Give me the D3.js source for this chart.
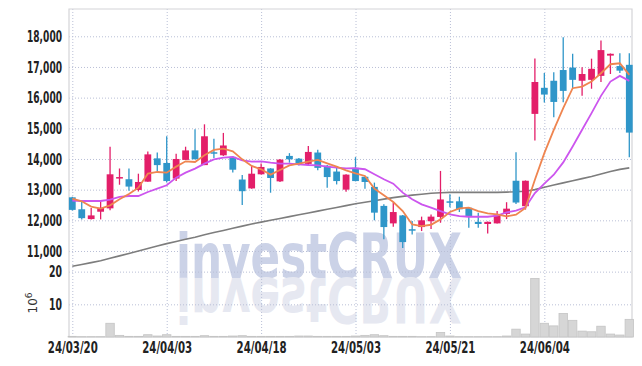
<!DOCTYPE html>
<html>
<head>
<meta charset="utf-8">
<script src="https://cdn.jsdelivr.net/npm/d3@7"></script>
<style>
  body { margin: 0; background: #fff; }
  .tick text { font-family: "DejaVu Sans", sans-serif; font-weight: bold; fill: #222; }
</style>
</head>
<body>
<script>
// chart size
var svgWidth = 642;
var svgHeight = 366;

// plot area
var plotLeft = 69, plotRight = 632, plotTop = 9, plotSplit = 270, plotBottom = 337;

// trading days
var dates = ["24/03/20","24/03/21","24/03/22","24/03/25","24/03/26","24/03/27","24/03/28","24/03/29",
  "24/04/01","24/04/02","24/04/03","24/04/04","24/04/05","24/04/08","24/04/09","24/04/11","24/04/12",
  "24/04/15","24/04/16","24/04/17","24/04/18","24/04/19","24/04/22","24/04/23","24/04/24","24/04/25",
  "24/04/26","24/04/29","24/04/30","24/05/02","24/05/03","24/05/07","24/05/08","24/05/09","24/05/10",
  "24/05/13","24/05/14","24/05/16","24/05/17","24/05/20","24/05/21","24/05/22","24/05/23","24/05/24",
  "24/05/27","24/05/28","24/05/29","24/05/30","24/05/31","24/06/03","24/06/04","24/06/05","24/06/07",
  "24/06/10","24/06/11","24/06/12","24/06/13","24/06/14","24/06/17","24/06/18"];

var openPrice = [12750,12360,12040,12280,12390,13380,13340,12990,13260,14020,13870,13360,13970,14280,13800,
  14220,14120,14070,13330,13040,13500,13690,13270,14100,14010,13840,14210,13780,13590,13000,13710,13420,
  13090,12470,11900,12160,11710,11780,11970,12110,12620,12620,12410,11950,11880,11900,12210,13290,12460,
  15470,16320,16550,16900,16980,16550,16580,16710,17370,17030,17070];
var closePrice = [12340,12070,12160,12410,13500,13410,13100,13250,14150,13800,13280,14000,14280,13990,14740,
  14180,14440,13650,12950,13520,13740,13380,13980,13990,13850,14230,13710,13410,13280,13490,13280,13250,
  12250,11780,12270,11290,11680,12000,12120,12680,12600,12360,12120,11880,11950,12190,12380,12580,13290,
  16510,16100,15860,16220,16580,16770,16940,17550,17430,16880,14860];
var highPrice = [12770,12650,12400,12600,14400,13690,13690,13520,14240,14210,14740,14170,14400,14970,15130,
  14660,14850,14090,13480,13780,13850,13700,14000,14190,14030,14420,14300,13800,13710,13500,14060,13430,
  13230,12520,12580,12170,11980,12120,12190,13610,12850,12770,12420,12250,11960,12300,12590,14220,13300,
  17280,16800,16830,17970,17430,16990,17270,17860,17440,17450,17450];
var lowPrice = [12320,12030,12030,12030,12330,13160,12960,12940,13260,13610,13230,13280,13970,13990,13800,
  14030,14100,13560,12500,13030,13490,12900,13250,13880,13790,13790,13630,13060,13170,12930,13270,13030,
  12000,11380,11790,11100,11540,11650,11720,11920,12430,12270,11760,11760,11570,11900,12040,12530,12350,
  14600,15840,15360,15850,16300,16060,16290,16510,16770,16800,14060];

// volume in millions
var volume = [0.2,0.1,0.1,0.1,4.2,0.5,0.2,0.2,0.7,0.3,0.7,0.2,0.2,0.2,0.4,0.2,0.2,0.3,0.4,0.2,
  0.2,0.2,0.2,0.2,0.3,0.3,0.2,0.2,0.2,0.2,0.3,0.5,0.7,0.4,0.2,0.2,0.2,0.1,0.1,1.4,
  0.3,0.1,0.1,0.1,0.1,0.1,0.3,2.4,0.9,17.9,4.2,3.4,7.2,5.1,1.8,1.6,3.3,0.9,0.6,5.4];

// moving average lines
var ma5 = [12706,12620,12446,12380,12489,12685,12859,13065,13522,13576,13554,13750,13924,13902,14120,
  14294,14337,14250,13989,13772,13663,13489,13641,13793,13848,13913,13967,13859,13750,13630,13530,13447,
  13033,12815,12597,12302,11866,11812,11855,12030,12270,12390,12411,12302,12226,12193,12130,12184,12400,
  13324,14192,14951,15656,16307,16362,16524,16796,17089,17121,16741];
var ma20 = [12641,12630,12630,12630,12674,12761,12793,12793,12924,13033,13141,13391,13554,13685,13848,
  13989,14043,14065,13957,13913,13924,13880,13848,13848,13826,13804,13793,13750,13717,13696,13697,13665,
  13501,13338,13196,12902,12684,12520,12411,12302,12193,12139,12117,12117,12117,12150,12260,12315,12423,
  12890,13193,13486,13888,14409,14951,15494,16058,16524,16709,16546];
var ma120 = [10500,10560,10620,10680,10760,10840,10920,11000,11080,11160,11240,11310,11380,11450,11530,
  11600,11670,11740,11810,11880,11940,12000,12060,12120,12180,12240,12300,12360,12420,12480,12540,12590,
  12640,12690,12740,12780,12820,12850,12880,12900,12910,12910,12910,12910,12910,12910,12920,12930,12950,
  13000,13080,13150,13220,13290,13360,13430,13510,13590,13660,13710];

// axis ticks
var priceTicks = [11000,12000,13000,14000,15000,16000,17000,18000];
var volumeTicks = [10,20];
var dateTicks = ["24/03/20","24/04/03","24/04/18","24/05/03","24/05/21","24/06/04"];

var svg = d3.select("body").append("svg")
  .attr("width", svgWidth)
  .attr("height", svgHeight);

var x = d3.scalePoint().domain(dates).range([72.3, 629.3]);
var step = x.step();
var yPrice = d3.scaleLinear().domain([10380, 18890]).range([plotSplit, plotTop]);
var yVol = d3.scaleLinear().domain([0, 20.5]).range([plotBottom, plotSplit]);

// watermark with reflection
svg.append("text")
  .attr("x", 176).attr("y", 278)
  .attr("textLength", 286).attr("lengthAdjust", "spacingAndGlyphs")
  .style("font-family", "DejaVu Sans, sans-serif")
  .style("font-weight", "bold").style("font-size", "62px")
  .style("fill", "#cbd2e7")
  .text("investCRUX");
svg.append("text")
  .attr("x", 176).attr("y", 278)
  .attr("transform", "translate(0," + (2 * 278) + ") scale(1,-1)")
  .attr("textLength", 286).attr("lengthAdjust", "spacingAndGlyphs")
  .style("font-family", "DejaVu Sans, sans-serif")
  .style("font-weight", "bold").style("font-size", "62px")
  .style("fill", "#e6e8f1")
  .text("investCRUX");

// grid lines
function styleGrid(g) {
  g.select(".domain").remove();
  g.selectAll("line").attr("stroke", "#b9bfd6").attr("stroke-dasharray", "1,2");
  g.selectAll("text").remove();
}
svg.append("g")
  .attr("transform", `translate(${plotLeft},0)`)
  .call(d3.axisLeft(yPrice).tickValues(priceTicks).tickSize(-(plotRight - plotLeft)))
  .call(styleGrid);
svg.append("g")
  .attr("transform", `translate(${plotLeft},0)`)
  .call(d3.axisLeft(yVol).tickValues(volumeTicks).tickSize(-(plotRight - plotLeft)))
  .call(styleGrid);
svg.append("g")
  .attr("transform", `translate(0,${plotBottom})`)
  .call(d3.axisBottom(x).tickValues(dateTicks).tickSize(-(plotBottom - plotTop)))
  .call(styleGrid);

// frame
svg.append("path")
  .attr("d", `M${plotLeft},${plotTop}H${plotRight}V${plotBottom}H${plotLeft}Z`)
  .attr("fill", "none").attr("stroke", "#d4d4d8").attr("stroke-width", 1.2);

// volume bars
svg.selectAll(".vol")
  .data(volume)
  .enter()
  .append("rect")
  .attr("class", "vol")
  .attr("x", (d, i) => x(dates[i]) - step / 2 + 0.5)
  .attr("y", d => yVol(d))
  .attr("width", step - 1)
  .attr("height", d => plotBottom - yVol(d))
  .attr("fill", "#d6d6d6")
  .attr("stroke", "#c4c4c4")
  .attr("stroke-width", 0.8);

// moving averages
var line = d3.line()
  .x((d, i) => x(dates[i]))
  .y(d => yPrice(d));
svg.append("path").datum(ma120).attr("d", line)
  .attr("fill", "none").attr("stroke", "#7d7d7d").attr("stroke-width", 1.6);

// candles
var candles = svg.selectAll(".candle")
  .data(dates)
  .enter()
  .append("g")
  .attr("class", "candle");
var colorOf = i => closePrice[i] >= openPrice[i] ? "#e31e69" : "#2f96c9";
candles.append("line")
  .attr("x1", d => x(d)).attr("x2", d => x(d))
  .attr("y1", (d, i) => yPrice(highPrice[i]))
  .attr("y2", (d, i) => yPrice(lowPrice[i]))
  .attr("stroke", (d, i) => colorOf(i))
  .attr("stroke-width", 1.3);
candles.append("rect")
  .attr("x", d => x(d) - 3.4)
  .attr("width", 6.8)
  .attr("y", (d, i) => yPrice(Math.max(openPrice[i], closePrice[i])))
  .attr("height", (d, i) => Math.max(1.5, Math.abs(yPrice(openPrice[i]) - yPrice(closePrice[i]))))
  .attr("fill", (d, i) => colorOf(i));

svg.append("path").datum(ma20).attr("d", line)
  .attr("fill", "none").attr("stroke", "#cc55ee").attr("stroke-width", 1.8);
svg.append("path").datum(ma5).attr("d", line)
  .attr("fill", "none").attr("stroke", "#ef8550").attr("stroke-width", 1.8);

// axis labels (condensed with textLength)
function styleLabels(g) {
  g.select(".domain").remove();
  g.selectAll("line").remove();
}
svg.append("g")
  .attr("transform", `translate(${plotLeft},0)`)
  .call(d3.axisLeft(yPrice).tickValues(priceTicks).tickFormat(d3.format(",")).tickSize(0).tickPadding(7))
  .call(styleLabels)
  .selectAll("text").style("font-size", "16px")
  .attr("textLength", 35).attr("lengthAdjust", "spacingAndGlyphs");
svg.append("g")
  .attr("transform", `translate(${plotLeft},0)`)
  .call(d3.axisLeft(yVol).tickValues(volumeTicks).tickSize(0).tickPadding(7))
  .call(styleLabels)
  .selectAll("text").style("font-size", "16px")
  .attr("textLength", 13).attr("lengthAdjust", "spacingAndGlyphs");
svg.append("g")
  .attr("transform", `translate(0,${plotBottom})`)
  .call(d3.axisBottom(x).tickValues(dateTicks).tickSize(0).tickPadding(5))
  .call(styleLabels)
  .selectAll("text").style("font-size", "16px")
  .attr("textLength", 50).attr("lengthAdjust", "spacingAndGlyphs");

// unit label
var unit = svg.append("text")
  .attr("transform", "translate(37,303) rotate(-90)")
  .attr("text-anchor", "middle")
  .style("font-family", "DejaVu Sans, sans-serif")
  .style("font-size", "12px")
  .style("fill", "#333");
unit.append("tspan").text("10");
unit.append("tspan").attr("dy", -5).style("font-size", "9px").text("6");
</script>
</body>
</html>
